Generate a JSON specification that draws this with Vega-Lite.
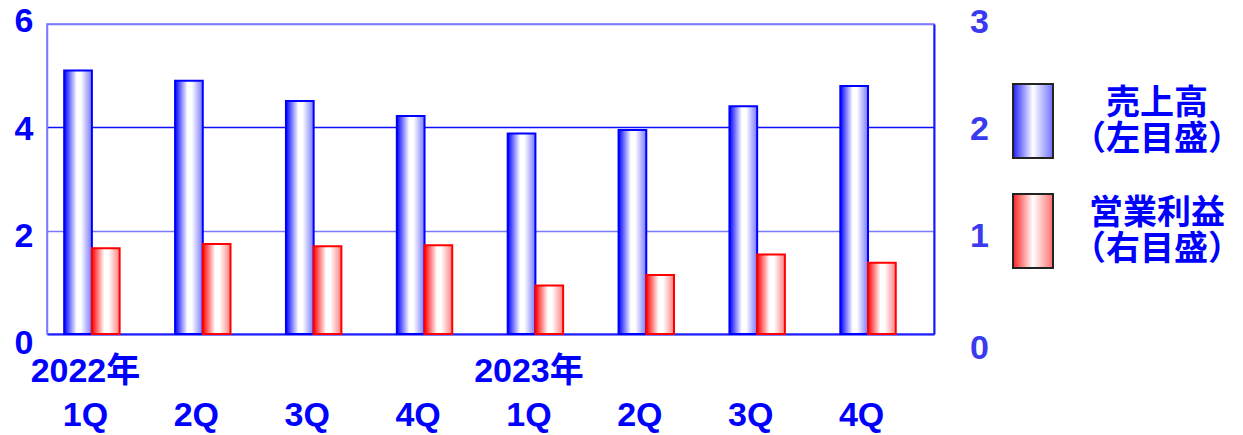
{
  "$schema": "https://vega.github.io/schema/vega-lite/v6.json",
  "width": 887,
  "height": 310,
  "autosize": "none",
  "padding": {"left": 47, "top": 24, "right": 309, "bottom": 101},
  "background": "white",
  "config": {
    "view": {"stroke": "#7777ff", "strokeWidth": 1.5},
    "font": "Liberation Sans, Noto Sans CJK JP"
  },
  "data": {
    "values": [
      {"q": "2022年 1Q", "series": "売上高", "value": 5.10},
      {"q": "2022年 1Q", "series": "営業利益", "value": 0.83},
      {"q": "2022年 2Q", "series": "売上高", "value": 4.90},
      {"q": "2022年 2Q", "series": "営業利益", "value": 0.87},
      {"q": "2022年 3Q", "series": "売上高", "value": 4.51},
      {"q": "2022年 3Q", "series": "営業利益", "value": 0.85},
      {"q": "2022年 4Q", "series": "売上高", "value": 4.22},
      {"q": "2022年 4Q", "series": "営業利益", "value": 0.86},
      {"q": "2023年 1Q", "series": "売上高", "value": 3.88},
      {"q": "2023年 1Q", "series": "営業利益", "value": 0.47},
      {"q": "2023年 2Q", "series": "売上高", "value": 3.95},
      {"q": "2023年 2Q", "series": "営業利益", "value": 0.57},
      {"q": "2023年 3Q", "series": "売上高", "value": 4.41},
      {"q": "2023年 3Q", "series": "営業利益", "value": 0.77},
      {"q": "2023年 4Q", "series": "売上高", "value": 4.80},
      {"q": "2023年 4Q", "series": "営業利益", "value": 0.69}
    ]
  },
  "encoding": {
    "x": {
      "field": "q",
      "type": "nominal",
      "sort": null,
      "scale": {"paddingInner": 0, "paddingOuter": 0},
      "axis": {
        "title": null,
        "labelExpr": "indexof(datum.value, '1Q') > 0 ? split(datum.value, ' ') : ['', split(datum.value, ' ')[1]]",
        "labelFontSize": 34,
        "labelFontWeight": "bold",
        "labelColor": "#0000ff",
        "labelAngle": 0,
        "labelAlign": "center",
        "labelBaseline": "top",
        "labelLineHeight": 44,
        "labelPadding": 20,
        "labelOffset": -17,
        "labelOverlap": false,
        "labelFlush": false,
        "labelBound": false,
        "ticks": false,
        "grid": false,
        "domainColor": "#2020ff",
        "domainWidth": 2
      }
    },
    "xOffset": {
      "field": "series",
      "type": "nominal",
      "scale": {"domain": ["売上高", "営業利益"], "paddingInner": 0, "paddingOuter": 1.22, "align": 0.31}
    }
  },
  "layer": [
    {
      "transform": [{"filter": "datum.series === '売上高'"}],
      "mark": {
        "type": "bar",
        "stroke": "#0000ff",
        "strokeWidth": 2,
        "fill": {"gradient": "linear", "x1": 0, "y1": 0, "x2": 1, "y2": 0, "stops": [
          {"offset": 0, "color": "#0000ff"},
          {"offset": 0.45, "color": "#ffffff"},
          {"offset": 0.6, "color": "#ffffff"},
          {"offset": 1, "color": "#7878ff"}
        ]}
      },
      "encoding": {
        "y": {
          "field": "value",
          "type": "quantitative",
          "scale": {"domain": [0, 6], "nice": false},
          "axis": {
            "title": null,
            "values": [0, 2, 4, 6],
            "grid": true,
            "gridColor": {"condition": {"test": "datum.value === 4", "value": "#1010ff"}, "value": "#7a7aff"},
            "gridWidth": 1.5,
            "ticks": false,
            "labelFontSize": 34,
            "labelFontWeight": "bold",
            "labelColor": "#0000ff",
            "labelPadding": 14,
            "labelOffset": {"condition": [
              {"test": "datum.value === 6", "value": -3},
              {"test": "datum.value === 2", "value": 6},
              {"test": "datum.value === 0", "value": 9}
            ], "value": 2},
            "domainColor": "#7777ff",
            "domainWidth": 1.5
          }
        }
      }
    },
    {
      "transform": [{"filter": "datum.series === '営業利益'"}],
      "mark": {
        "type": "bar",
        "stroke": "#ff0000",
        "strokeWidth": 2,
        "fill": {"gradient": "linear", "x1": 0, "y1": 0, "x2": 1, "y2": 0, "stops": [
          {"offset": 0, "color": "#ff0000"},
          {"offset": 0.45, "color": "#ffffff"},
          {"offset": 0.6, "color": "#ffffff"},
          {"offset": 1, "color": "#ff8080"}
        ]}
      },
      "encoding": {
        "y": {
          "field": "value",
          "type": "quantitative",
          "scale": {"domain": [0, 3], "nice": false},
          "axis": {
            "orient": "right",
            "title": null,
            "values": [0, 1, 2, 3],
            "grid": false,
            "ticks": false,
            "labelFontSize": 34,
            "labelFontWeight": "bold",
            "labelColor": "#3a3aee",
            "labelAlign": "center",
            "labelPadding": 45,
            "labelOffset": {"condition": [
              {"test": "datum.value === 3", "value": -2},
              {"test": "datum.value === 1", "value": 6},
              {"test": "datum.value === 0", "value": 14}
            ], "value": 2},
            "domainColor": "#1a1aff",
            "domainWidth": 2
          }
        }
      }
    },
    {
      "mark": {
        "type": "point",
        "filled": true,
        "opacity": 0,
        "strokeWidth": 2,
        "fill": {"expr": "datum.value === '売上高' ? {gradient: 'linear', x1: 0, y1: 0, x2: 1, y2: 0, stops: [{offset: 0, color: '#2020ff'}, {offset: 0.5, color: '#ffffff'}, {offset: 1, color: '#7070ff'}]} : {gradient: 'linear', x1: 0, y1: 0, x2: 1, y2: 0, stops: [{offset: 0, color: '#ff2020'}, {offset: 0.5, color: '#ffffff'}, {offset: 1, color: '#ff7070'}]}"}
      },
      "encoding": {
        "y": {"field": "value", "type": "quantitative", "scale": {"domain": [0, 6], "nice": false}, "axis": null},
        "stroke": {"value": "#222222"},
        "shape": {
          "field": "series",
          "type": "nominal",
          "scale": {"domain": ["売上高", "営業利益"], "range": ["M-0.54,-1H0.54V1H-0.54Z", "M-0.54,-1H0.54V1H-0.54Z"]},
          "legend": {
            "title": null,
            "orient": "none",
            "legendX": 948,
            "legendY": 59,
            "padding": 0,
            "rowPadding": 28,
            "symbolSize": 5476,
            "symbolOpacity": 1,
            "symbolStrokeWidth": 2,
            "labelExpr": "datum.value === '売上高' ? ['売上高', '（左目盛）'] : ['営業利益', '（右目盛）']",
            "labelFontSize": 34,
            "labelFontWeight": "bold",
            "labelColor": "#0000ff",
            "labelAlign": "center",
            "labelBaseline": "bottom",
            "labelOffset": 86,
            "labelLimit": 400
          }
        }
      }
    }
  ],
  "resolve": {"scale": {"y": "independent"}}
}
